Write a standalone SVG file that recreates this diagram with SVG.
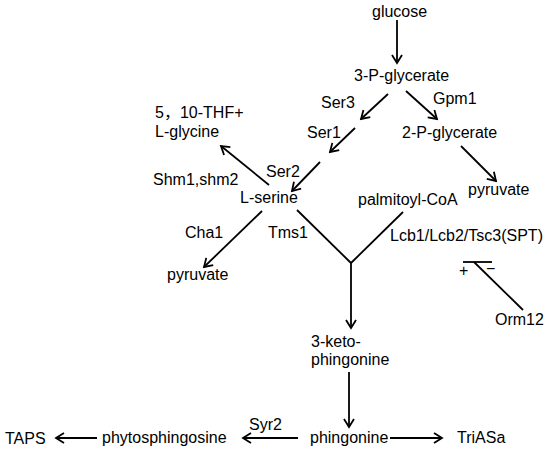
<svg xmlns="http://www.w3.org/2000/svg" width="550" height="450" viewBox="0 0 550 450">
<defs>
<marker id="ah" viewBox="0 0 12 12" refX="10" refY="6" markerWidth="12" markerHeight="12" markerUnits="userSpaceOnUse" orient="auto">
<path d="M2,1 L10,6 L2,11" fill="none" stroke="#000" stroke-width="1.8"/>
</marker>
<style>
text{font-family:"Liberation Sans",Arial,"Noto Sans CJK SC",sans-serif;font-size:16px;fill:#000}
.cjk{font-family:"Noto Sans CJK SC",sans-serif}
.c line{stroke:#000;stroke-width:1.8;fill:none}
.a{marker-end:url(#ah)}
</style>
</defs>
<rect width="550" height="450" fill="#fff"/>
<g class="c" id="connectors">
<line class="a" x1="397" y1="20" x2="397" y2="63"/>
<line class="a" x1="388" y1="94" x2="361" y2="119"/>
<line class="a" x1="406" y1="91" x2="437" y2="119"/>
<line class="a" x1="355" y1="128" x2="330" y2="152"/>
<line class="a" x1="461" y1="146" x2="496" y2="181"/>
<line class="a" x1="320" y1="162" x2="292" y2="191"/>
<line class="a" x1="269" y1="185" x2="221" y2="146"/>
<line class="a" x1="262" y1="211" x2="204" y2="267"/>
<line x1="297" y1="210" x2="351" y2="263"/>
<line x1="403" y1="212" x2="351" y2="263"/>
<line class="a" x1="351" y1="263" x2="351" y2="328"/>
<line class="a" x1="349" y1="372" x2="349" y2="427"/>
<line class="a" x1="390" y1="438" x2="442" y2="438"/>
<line class="a" x1="298" y1="438" x2="243" y2="438"/>
<line class="a" x1="97" y1="438" x2="56" y2="438"/>
<line x1="463" y1="262" x2="492" y2="262"/>
<line x1="474" y1="262" x2="523" y2="310"/>
</g>
<g id="glucose"><text x="372" y="17">glucose</text></g>
<g id="g3p"><text x="354" y="81">3-P-glycerate</text></g>
<g id="ser3"><text x="321" y="108">Ser3</text></g>
<g id="gpm1"><text x="433" y="104">Gpm1</text></g>
<g id="ser1"><text x="307" y="138">Ser1</text></g>
<g id="g2p"><text x="402" y="138">2-P-glycerate</text></g>
<g id="pyruvate1"><text x="468" y="195">pyruvate</text></g>
<g id="ser2"><text x="266" y="177">Ser2</text></g>
<g id="lserine"><text x="240" y="203">L-serine</text></g>
<g id="palmitoyl"><text x="358" y="205">palmitoyl-CoA</text></g>
<g id="thf"><text x="155" y="118">5<tspan class="cjk">，</tspan>10-THF+</text><text x="155" y="137">L-glycine</text></g>
<g id="shm"><text x="153" y="185">Shm1,shm2</text></g>
<g id="cha1"><text x="185" y="238">Cha1</text></g>
<g id="pyruvate2"><text x="167" y="280">pyruvate</text></g>
<g id="tms1"><text x="268" y="238">Tms1</text></g>
<g id="spt"><text x="390" y="241">Lcb1/Lcb2/Tsc3(SPT)</text></g>
<g id="plusminus"><text x="459" y="276">+</text><text x="486" y="274">−</text></g>
<g id="orm12"><text x="495" y="325">Orm12</text></g>
<g id="keto"><text x="311" y="347">3-keto-</text><text x="311" y="365">phingonine</text></g>
<g id="phingonine"><text x="310" y="443">phingonine</text></g>
<g id="triasa"><text x="457" y="443">TriASa</text></g>
<g id="syr2"><text x="249" y="430">Syr2</text></g>
<g id="phyto"><text x="102" y="443">phytosphingosine</text></g>
<g id="taps"><text x="5" y="444">TAPS</text></g>
</svg>
